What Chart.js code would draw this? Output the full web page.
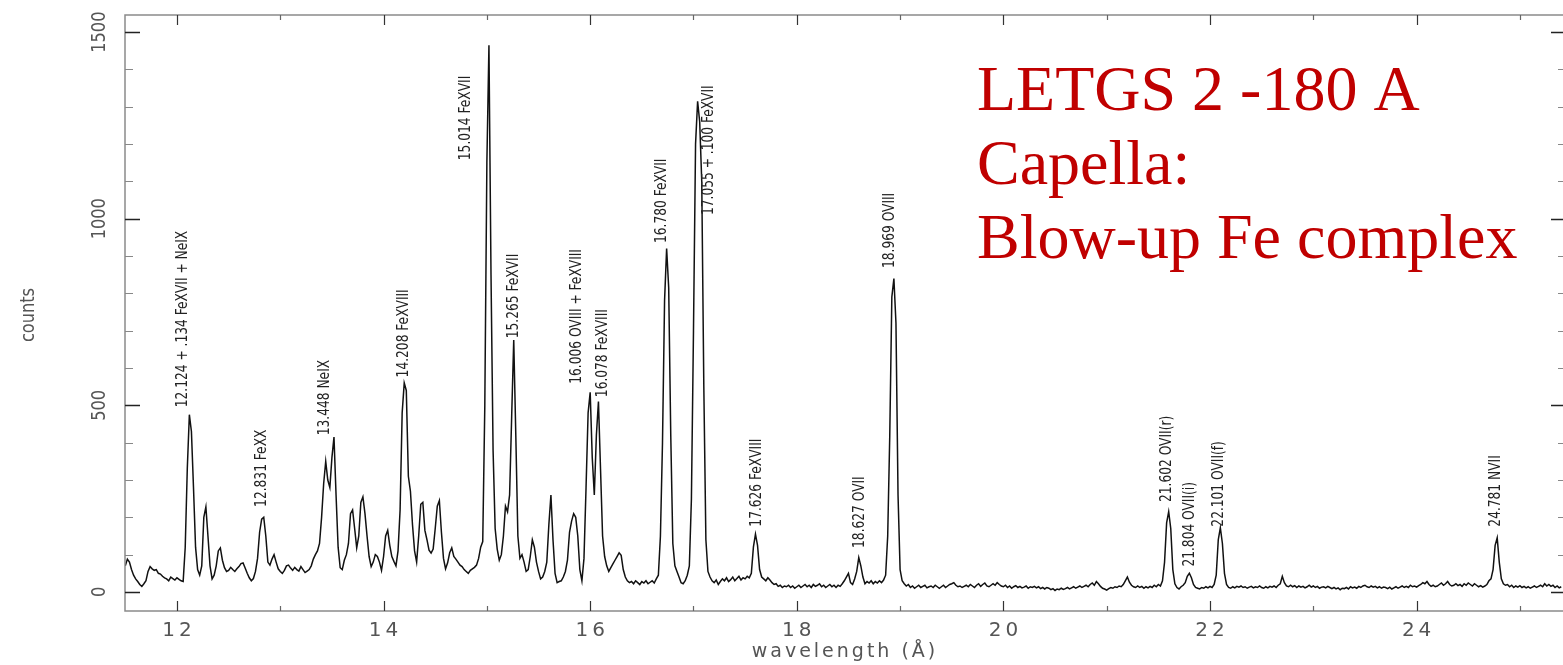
<!DOCTYPE html>
<html>
<head>
<meta charset="utf-8">
<script src="https://cdn.jsdelivr.net/npm/chart.js@4.4.1/dist/chart.umd.min.js"></script>
<style>
  html, body { margin: 0; padding: 0; background: #fff; overflow: hidden; }
  canvas { display: block; }
</style>
</head>
<body>
<canvas id="spec" width="1570" height="665"></canvas>
<script>
// ---- DATA ----
// spectrum sampled every 0.02 A starting at 11.50 A (one line = 0.1 A)
const lambdaStart = 11.5;
const lambdaStep = 0.02;
const counts = [
  70, 88, 80, 60, 45,      // 11.5
  35, 28, 20, 15, 22,      // 11.6
  30, 55, 68, 62, 58,      // 11.7
  60, 50, 48, 42, 38,      // 11.8
  35, 30, 40, 36, 32,      // 11.9
  38, 34, 30, 28, 120,     // 12.0
  330, 475, 430, 280, 120, // 12.1
  60, 45, 70, 200, 228,    // 12.2
  150, 70, 35, 45, 70,     // 12.3
  110, 118, 85, 65, 55,    // 12.4
  58, 66, 60, 55, 62,      // 12.5
  68, 76, 78, 64, 50,      // 12.6
  38, 30, 36, 55, 90,      // 12.7
  160, 195, 200, 150, 80,  // 12.8
  72, 88, 100, 80, 62,     // 12.9
  55, 50, 58, 70, 72,      // 13.0
  64, 58, 66, 60, 56,      // 13.1
  68, 60, 52, 56, 60,      // 13.2
  70, 88, 100, 110, 130,   // 13.3
  200, 290, 350, 300, 280, // 13.4
  360, 415, 260, 120, 65,  // 13.5
  60, 85, 100, 130, 210,   // 13.6
  220, 170, 118, 150, 240, // 13.7
  255, 210, 150, 95, 68,   // 13.8
  80, 100, 95, 80, 58,     // 13.9
  95, 150, 165, 125, 95,   // 14.0
  82, 70, 110, 220, 480,   // 14.1
  560, 540, 310, 270, 180, // 14.2
  110, 80, 150, 235, 240,  // 14.3
  165, 140, 112, 104, 115, // 14.4
  170, 230, 245, 160, 90,  // 14.5
  62, 78, 105, 118, 95,    // 14.6
  88, 80, 72, 68, 60,      // 14.7
  55, 50, 58, 62, 66,      // 14.8
  72, 90, 120, 135, 500,   // 14.9
  1150, 1465, 850, 380, 170, // 15.0
  115, 85, 100, 150, 230,  // 15.1
  215, 260, 470, 675, 420, // 15.2
  150, 90, 100, 80, 55,    // 15.3
  60, 95, 140, 120, 80,    // 15.4
  55, 35, 40, 55, 80,      // 15.5
  180, 260, 140, 50, 25,   // 15.6
  28, 30, 40, 55, 85,      // 15.7
  160, 190, 210, 200, 150, // 15.8
  60, 30, 90, 280, 480,    // 15.9
  535, 360, 260, 420, 510, // 16.0
  330, 150, 95, 70, 55,    // 16.1
  65, 75, 85, 95, 105,     // 16.2
  98, 60, 40, 30, 25,      // 16.3
  28, 22, 30, 25, 20,      // 16.4
  28, 24, 30, 22, 26,      // 16.5
  30, 24, 35, 45, 150,     // 16.6
  400, 780, 920, 815, 420, // 16.7
  130, 70, 55, 40, 25,     // 16.8
  22, 30, 45, 70, 250,     // 16.9
  700, 1200, 1315, 1260, 1100, // 17.0
  550, 140, 55, 40, 30,    // 17.1
  25, 32, 20, 28, 35,      // 17.2
  30, 38, 28, 33, 40,      // 17.3
  30, 36, 42, 32, 38,      // 17.4
  35, 42, 38, 50, 120,     // 17.5
  155, 125, 60, 40, 35,    // 17.6
  30, 38, 32, 25, 20,      // 17.7
  22, 15, 18, 12, 16,      // 17.8
  14, 18, 12, 16, 10,      // 17.9
  14, 18, 12, 16, 20,      // 18.0
  14, 18, 12, 20, 15,      // 18.1
  18, 22, 14, 18, 12,      // 18.2
  16, 20, 14, 18, 12,      // 18.3
  18, 15, 22, 30, 40,      // 18.4
  50, 25, 20, 35, 55,      // 18.5
  92, 70, 40, 22, 28,      // 18.6
  24, 30, 22, 28, 24,      // 18.7
  30, 25, 32, 45, 150,     // 18.8
  420, 790, 840, 720, 260, // 18.9
  60, 30, 22, 16, 20,      // 19.0
  12, 16, 10, 14, 18,      // 19.1
  12, 15, 18, 11, 14,      // 19.2
  16, 12, 18, 14, 10,      // 19.3
  14, 18, 12, 16, 20,      // 19.4
  22, 25, 18, 14, 16,      // 19.5
  12, 15, 18, 14, 20,      // 19.6
  16, 12, 18, 22, 15,      // 19.7
  20, 24, 16, 14, 18,      // 19.8
  22, 18, 25, 20, 16,      // 19.9
  14, 18, 12, 16, 10,      // 20.0
  14, 17, 12, 15, 11,      // 20.1
  13, 16, 10, 14, 12,      // 20.2
  15, 11, 14, 9, 12,       // 20.3
  8, 12, 10, 6, 9,         // 20.4
  4, 8, 6, 10, 7,          // 20.5
  9, 12, 8, 11, 14,        // 20.6
  10, 13, 16, 12, 15,      // 20.7
  18, 14, 20, 24, 18,      // 20.8
  28, 22, 15, 10, 8,       // 20.9
  5, 9, 12, 10, 14,        // 21.0
  12, 16, 14, 20, 30,      // 21.1
  40, 26, 18, 14, 12,      // 21.2
  16, 12, 15, 10, 14,      // 21.3
  11, 15, 12, 18, 14,      // 21.4
  20, 16, 30, 80, 185,     // 21.5
  215, 170, 60, 22, 12,    // 21.6
  8, 14, 18, 25, 42,       // 21.7
  50, 38, 20, 12, 10,      // 21.8
  8, 12, 10, 14, 11,       // 21.9
  15, 12, 20, 45, 140,     // 22.0
  172, 130, 50, 20, 12,    // 22.1
  10, 14, 11, 15, 13,      // 22.2
  16, 12, 14, 10, 13,      // 22.3
  15, 11, 14, 12, 16,      // 22.4
  12, 10, 14, 11, 15,      // 22.5
  13, 16, 12, 18, 22,      // 22.6
  42, 25, 16, 14, 18,      // 22.7
  14, 17, 12, 16, 13,      // 22.8
  15, 11, 14, 18, 13,      // 22.9
  16, 12, 15, 10, 13,      // 23.0
  14, 11, 15, 12, 9,       // 23.1
  12, 8, 11, 6, 10,        // 23.2
  9, 12, 8, 14, 11,        // 23.3
  13, 10, 15, 12, 16,      // 23.4
  18, 14, 12, 16, 13,      // 23.5
  15, 11, 14, 10, 13,      // 23.6
  12, 9, 13, 8, 11,        // 23.7
  14, 10, 13, 16, 12,      // 23.8
  15, 12, 18, 14, 16,      // 23.9
  13, 17, 20, 25, 22,      // 24.0
  28, 20, 15, 18, 14,      // 24.1
  16, 20, 24, 18, 22,      // 24.2
  28, 20, 16, 18, 22,      // 24.3
  17, 20, 15, 22, 18,      // 24.4
  24, 20, 16, 22, 18,      // 24.5
  14, 17, 13, 16, 20,      // 24.6
  30, 35, 60, 125, 145,    // 24.7
  80, 35, 22, 18, 20,      // 24.8
  14, 18, 12, 16, 13,      // 24.9
  17, 12, 15, 11, 14,      // 25.0
  10, 13, 16, 12, 15,      // 25.1
  18, 14, 22, 16, 20,      // 25.2
  15, 18, 12, 16, 11,      // 25.3
  14                       // 25.4
];

const xMajorTicks = [12, 14, 16, 18, 20, 22, 24];
const xMinorTicks = [13, 15, 17, 19, 21, 23, 25];
const yMajorTicks = [0, 500, 1000, 1500];
const yMinorTicks = [100, 200, 300, 400, 600, 700, 800, 900, 1100, 1200, 1300, 1400];

// line identifications: text, wavelength where the label sits, counts at label foot
const lineLabels = [
  "12.124 + .134 FeXVII + NeIX", "12.831 FeXX", "13.448 NeIX", "14.208 FeXVIII",
  "15.014 FeXVII", "15.265 FeXVII", "16.006 OVIII + FeXVIII", "16.078 FeXVIII",
  "16.780 FeXVII", "17.055 + .100 FeXVII", "17.626 FeXVIII", "18.627 OVII",
  "18.969 OVIII", "21.602 OVII(r)", "21.804 OVII(i)", "22.101 OVII(f)", "24.781 NVII"
];
const labelLambda = [
  12.06, 12.826, 13.43, 14.20,
  14.80, 15.26, 15.87, 16.125,
  16.69, 17.15, 17.615, 18.61,
  18.90, 21.58, 21.80, 22.09, 24.77
];
const labelCounts = [
  495, 228, 420, 575,
  1157, 680, 558, 522,
  935, 1010, 175, 118,
  868, 241, 68, 175, 175
];

const titleLines = ["LETGS 2 -180 A", "Capella:", "Blow-up Fe complex"];

// ---- PLUGIN: FRAME, TICKS, TEXT ----
const frameAndText = {
  id: "frameAndText",
  afterDatasetsDraw(chart) {
    const { ctx, chartArea, scales } = chart;
    const { left, right, top, bottom } = chartArea;
    const xs = scales.x, ys = scales.y;

    ctx.save();
    // frame
    ctx.strokeStyle = "#8a8a8a";
    ctx.lineWidth = 1.5;
    ctx.strokeRect(left, top, right - left, bottom - top);

    // x ticks, bottom and top, pointing inward
    function xTick(v, len) {
      const px = Math.round(xs.getPixelForValue(v)) + 0.5;
      ctx.beginPath();
      ctx.moveTo(px, bottom); ctx.lineTo(px, bottom - len);
      ctx.moveTo(px, top); ctx.lineTo(px, top + len);
      ctx.stroke();
    }
    ctx.strokeStyle = "#333";
    ctx.lineWidth = 1.2;
    xMajorTicks.forEach(v => xTick(v, 10));
    ctx.strokeStyle = "#666";
    xMinorTicks.forEach(v => xTick(v, 5));

    // y ticks, left and right
    function yTick(v, len) {
      const py = Math.round(ys.getPixelForValue(v)) + 0.5;
      ctx.beginPath();
      ctx.moveTo(left, py); ctx.lineTo(left + len, py);
      ctx.moveTo(right, py); ctx.lineTo(right - len, py);
      ctx.stroke();
    }
    ctx.strokeStyle = "#222";
    ctx.lineWidth = 1.4;
    yMajorTicks.forEach(v => yTick(v, 15));
    ctx.strokeStyle = "#888";
    ctx.lineWidth = 1;
    yMinorTicks.forEach(v => yTick(v, 8));

    // x tick labels
    ctx.fillStyle = "#555";
    ctx.font = '20px "DejaVu Sans", sans-serif';
    ctx.textAlign = "center";
    ctx.textBaseline = "middle";
    ctx.letterSpacing = "4px";
    xMajorTicks.forEach(v => {
      ctx.fillText(String(v), xs.getPixelForValue(v) + 2, 631);
    });
    ctx.letterSpacing = "3px";
    ctx.font = '19px "DejaVu Sans", sans-serif';
    ctx.fillText("wavelength (Å)", 845, 652);
    ctx.letterSpacing = "0px";

    // y tick labels, rotated and narrowed
    ctx.font = '20px "DejaVu Sans Condensed", "DejaVu Sans", sans-serif';
    yMajorTicks.forEach(v => {
      ctx.save();
      ctx.translate(100, ys.getPixelForValue(v));
      ctx.rotate(-Math.PI / 2);
      ctx.scale(0.9, 1);
      ctx.fillText(String(v), 0, 0);
      ctx.restore();
    });
    ctx.save();
    ctx.translate(29, 315);
    ctx.rotate(-Math.PI / 2);
    ctx.scale(0.9, 1);
    ctx.fillText("counts", 0, 0);
    ctx.restore();

    // line identifications
    ctx.fillStyle = "#222";
    ctx.font = '16px "DejaVu Sans Condensed", "DejaVu Sans", sans-serif';
    ctx.textAlign = "left";
    lineLabels.forEach((t, i) => {
      ctx.save();
      ctx.translate(xs.getPixelForValue(labelLambda[i]), ys.getPixelForValue(labelCounts[i]));
      ctx.rotate(-Math.PI / 2);
      ctx.scale(0.85, 1);
      ctx.fillText(t, 0, 0);
      ctx.restore();
    });

    // red title block
    ctx.fillStyle = "#c00000";
    ctx.font = '64px "Liberation Serif", "DejaVu Serif", serif';
    ctx.textBaseline = "alphabetic";
    titleLines.forEach((t, i) => ctx.fillText(t, 977, 110 + i * 74));

    ctx.restore();
  }
};

// ---- CHART ----
const points = counts.map((c, i) => ({ x: +(lambdaStart + i * lambdaStep).toFixed(2), y: c }));

new Chart(document.getElementById("spec"), {
  type: "line",
  data: {
    datasets: [{
      data: points,
      borderColor: "#111",
      borderWidth: 1.5,
      pointRadius: 0,
      tension: 0,
      fill: false
    }]
  },
  options: {
    responsive: false,
    animation: false,
    layout: { padding: { left: 125, top: 15, right: 4, bottom: 54 } },
    plugins: { legend: { display: false }, tooltip: { enabled: false } },
    scales: {
      x: { type: "linear", min: 11.497, max: 25.446, display: false },
      y: { min: -51, max: 1546, display: false }
    }
  },
  plugins: [frameAndText]
});
</script>
</body>
</html>
